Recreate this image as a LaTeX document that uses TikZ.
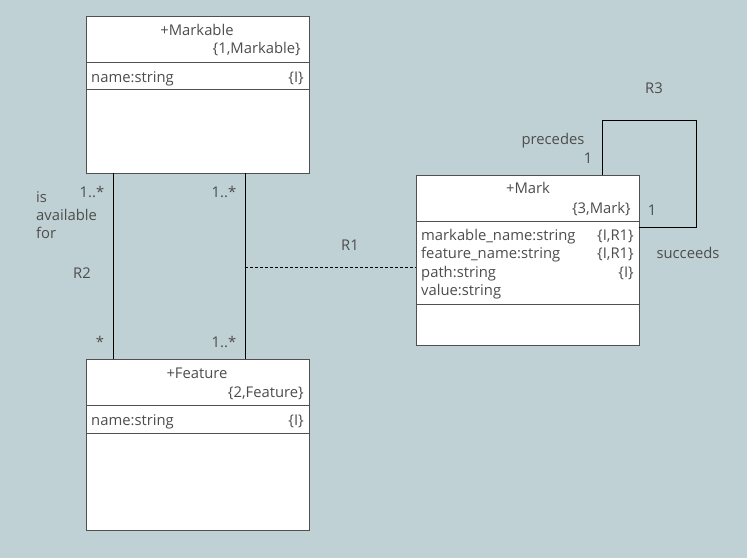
\documentclass[tikz,border=0pt]{standalone}
\usepackage{fontspec}
\setmainfont{Open Sans}
\definecolor{bg}{HTML}{BFD1D4}
\definecolor{txt}{HTML}{4D4D4D}
\definecolor{frame}{HTML}{505050}

\begin{document}
\begin{tikzpicture}[x=1pt, y=-1pt,
    every node/.style={font=\fontsize{14.8}{18}\selectfont, text=txt, inner sep=0pt, anchor=base},
    classbox/.style={draw=frame, fill=white, anchor=north west, minimum width=223pt},
    link/.style={draw=black, line width=0.8pt}]
  \fill [bg] (0,0) rectangle (747,558);
  \useasboundingbox (0,0) rectangle (747,558);

  % classes
  \node [classbox, minimum height=157pt] (markable) at (86,16) {};
  \node [classbox, minimum height=171pt] (feature) at (86,359) {};
  \node [classbox, minimum height=170pt] (mark) at (416,175) {};
  \draw [frame] (markable.north west) ++(0,46) -- ++(223,0);
  \draw [frame] (markable.north west) ++(0,73) -- ++(223,0);
  \draw [frame] (feature.north west) ++(0,46) -- ++(223,0);
  \draw [frame] (feature.north west) ++(0,74) -- ++(223,0);
  \draw [frame] (mark.north west) ++(0,46) -- ++(223,0);
  \draw [frame] (mark.north west) ++(0,129) -- ++(223,0);

  \node (markablename) at (197,35) {+Markable};
  \node [anchor=base east] (markablekey) at (301,53) {\{1,Markable\}};
  \node [anchor=base west] (markableattr) at (91,82) {name:string};
  \node [anchor=base east] (markableid) at (304,82) {\{I\}};

  \node (featurename) at (197,378) {+Feature};
  \node [anchor=base east] (featurekey) at (304,397) {\{2,Feature\}};
  \node [anchor=base west] (featureattr) at (91,425) {name:string};
  \node [anchor=base east] (featureid) at (304,425) {\{I\}};

  \node (markname) at (528,193) {+Mark};
  \node [anchor=base east] (markkey) at (631,213) {\{3,Mark\}};
  \node [anchor=base west] (markattra) at (421,240) {markable\_name:string};
  \node [anchor=base west] (markattrb) at (421,258) {feature\_name:string};
  \node [anchor=base west] (markattrc) at (421,277) {path:string};
  \node [anchor=base west] (markattrd) at (421,295) {value:string};
  \node [anchor=base east] (markida) at (634,240) {\{I,R1\}};
  \node [anchor=base east] (markidb) at (634,258) {\{I,R1\}};
  \node [anchor=base east] (markidc) at (634,277) {\{I\}};

  % R2
  \draw [link] ([xshift=27pt]markable.south west) -- ([xshift=27pt]feature.north west);
  \node (rtwo) at (82,278) {R2};
  \node [anchor=base west, align=left] (avail) at (36,238) {is\\available\\for};
  \node (rtwoa) at (92,197) {1..*};
  \node (rtwob) at (100,347) {*};

  % right line and R1
  \draw [link] ([xshift=159pt]markable.south west) -- ([xshift=159pt]feature.north west);
  \node (roneA) at (224,197) {1..*};
  \node (roneB) at (224,347) {1..*};
  \coordinate (assoc) at (245,267);
  \draw [link, line width=0.6pt, dashed, dash pattern=on 3pt off 2pt] (assoc) -- (assoc -| mark.west);
  \node (rone) at (350,250) {R1};

  % R3
  \coordinate (loop) at (696,120);
  \draw [link] ([xshift=186pt]mark.north west) |- (loop) |- ([yshift=-52pt]mark.north east);
  \node (rthree) at (654,93) {R3};
  \node (prec) at (553,144) {precedes};
  \node (preca) at (588,163) {1};
  \node (succa) at (652,215) {1};
  \node (succ) at (688,258) {succeeds};
\end{tikzpicture}
\end{document}
